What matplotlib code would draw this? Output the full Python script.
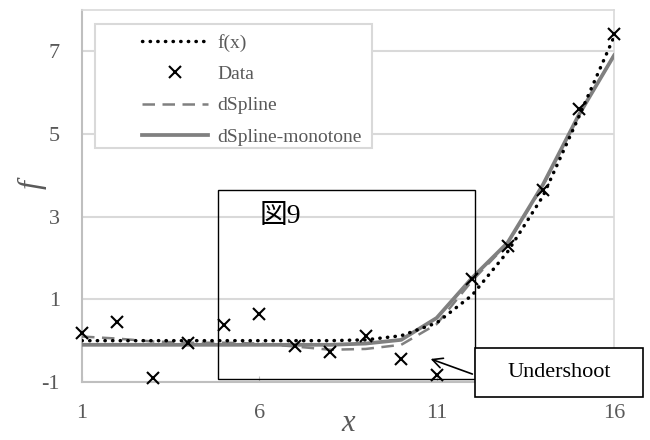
import matplotlib
matplotlib.use("Agg")
import matplotlib.pyplot as plt
from matplotlib.patches import Rectangle, FancyArrowPatch

# ---- data ----
x_vals = [1, 2, 3, 4, 5, 6, 7, 8, 9, 10, 11, 12, 13, 14, 15, 16]
data_y = [0.19, 0.45, -0.90, -0.05, 0.38, 0.64, -0.14, -0.27, 0.12, -0.44,
          -0.83, 1.49, 2.28, 3.65, 5.61, 7.41]
f_y = [0.00, 0.00, 0.00, 0.00, 0.00, 0.00, 0.00, 0.00, 0.02, 0.12,
       0.43, 1.10, 2.15, 3.50, 5.40, 7.35]
dspline_y = [0.10, 0.05, -0.02, -0.05, -0.05, -0.07, -0.14, -0.22, -0.20, -0.10,
             0.40, 1.45, 2.35, 3.75, 5.45, 6.90]
mono_y = [-0.10, -0.10, -0.10, -0.10, -0.10, -0.10, -0.10, -0.10, -0.07, 0.02,
          0.55, 1.52, 2.37, 3.78, 5.45, 6.90]
x_ticks = [1, 6, 11, 16]
y_ticks = [-1, 1, 3, 5, 7]
labels = ["f(x)", "Data", "dSpline", "dSpline-monotone"]

SERIF = ["Liberation Serif", "Noto Sans CJK JP", "DejaVu Serif"]
TXT = "#595959"
GRID = "#d9d9d9"
GRAY = "#808080"

fig = plt.figure(figsize=(6.5, 4.4), dpi=100)
ax = fig.add_axes([82 / 650, 1 - 382 / 440, 532 / 650, 372 / 440])

ax.set_xlim(1, 16)
ax.set_ylim(-1, 8)
ax.set_xticks(x_ticks)
ax.set_yticks(y_ticks)
ax.set_xticklabels([str(v) for v in x_ticks], family=SERIF, fontsize=16, color=TXT)
ax.set_yticklabels([str(v) for v in y_ticks], family=SERIF, fontsize=16, color=TXT)
ax.tick_params(axis="x", direction="in", length=4, color="#bfbfbf", pad=16)
ax.tick_params(axis="y", length=0, pad=16)
ax.yaxis.grid(True, color=GRID, linewidth=1.5)
ax.set_axisbelow(True)
for s in ["top", "right"]:
    ax.spines[s].set_color(GRID)
    ax.spines[s].set_linewidth(1.2)
for s in ["left", "bottom"]:
    ax.spines[s].set_color("#bfbfbf")
    ax.spines[s].set_linewidth(1.5)

l1, = ax.plot(x_vals, f_y, color="black", linewidth=2.5,
              linestyle=(0, (0.1, 2.1)), dash_capstyle="round", zorder=4)
l2, = ax.plot(x_vals, data_y, linestyle="none", marker="x", color="black",
              markersize=8, markeredgewidth=1.5, zorder=5, clip_on=False)
l3, = ax.plot(x_vals, dspline_y, color=GRAY, linewidth=1.8,
              linestyle=(0, (5, 3)), zorder=3)
l4, = ax.plot(x_vals, mono_y, color=GRAY, linewidth=2.7, zorder=3)

ax.set_xlabel("x", family=SERIF, style="italic", fontsize=22, color=TXT, labelpad=-10)
ax.set_ylabel("f", family=SERIF, style="italic", fontsize=23, color=TXT)
ax.yaxis.set_label_coords(-0.066, 0.53)

# legend frame + legend
ax.add_patch(Rectangle((0.024, 0.629), 0.521, 0.333, transform=ax.transAxes,
                       facecolor="white", edgecolor=GRID, linewidth=1.5, zorder=6))
leg = ax.legend([l1, l2, l3, l4], labels, loc="upper left",
                bbox_to_anchor=(0.087, 0.972), frameon=False,
                prop={"family": SERIF, "size": 14}, handlelength=3.4,
                handletextpad=0.5, labelspacing=0.7, borderpad=0.2)
for t in leg.get_texts():
    t.set_color(TXT)
leg.set_zorder(7)

# 図9 box
ax.add_patch(Rectangle((0.256, 0.008), 0.483, 0.508, transform=ax.transAxes,
                       facecolor="none", edgecolor="black", linewidth=1.0, zorder=6))
ax.text(0.372, 0.446, "図9", transform=ax.transAxes, family=SERIF, fontsize=20,
        color="black", ha="center", va="center", zorder=7)

# Undershoot callout
fig.patches.append(Rectangle((475 / 650, 1 - 397 / 440), 168 / 650, 49 / 440,
                             transform=fig.transFigure, facecolor="white",
                             edgecolor="black", linewidth=1.2, zorder=8))
fig.text(559 / 650, 1 - 372 / 440, "Undershoot", family=SERIF, fontsize=16,
         color="black", ha="center", va="center", zorder=9)
fig.add_artist(FancyArrowPatch(
    (475 / 650, 1 - 375 / 440), (428 / 650, 1 - 358 / 440),
    transform=fig.transFigure, arrowstyle="->", mutation_scale=18,
    color="black", linewidth=1.2, zorder=9))

fig.savefig("out.png", dpi=100)
